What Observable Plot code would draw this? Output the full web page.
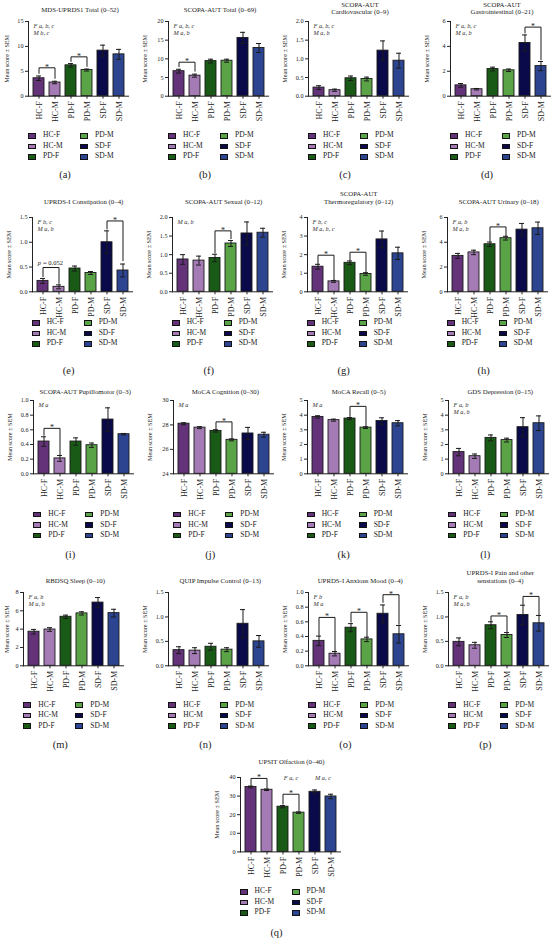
<!DOCTYPE html>
<html><head><meta charset="utf-8">
<script src="https://cdn.jsdelivr.net/npm/d3@7"></script>
<script src="https://cdn.jsdelivr.net/npm/@observablehq/plot@0.6"></script>
<style>
body{margin:0;background:#fff;}
#root{position:relative;width:554px;height:939px;overflow:hidden;font-family:"Liberation Serif","DejaVu Serif",serif;color:#222;}
.abs{position:absolute;}
.title{font-size:6.8px;line-height:7.8px;text-align:center;white-space:pre;width:160px;}
.lab{font-size:10.5px;width:30px;text-align:center;line-height:12px;}
.leg{position:absolute;font-size:7.5px;line-height:10.5px;white-space:nowrap;}
.sw{position:absolute;width:6px;height:3.6px;border:0.8px solid #111;}
svg{overflow:visible;}
</style></head><body><div id="root"></div>
<script>
const groups = ["HC-F", "HC-M", "PD-F", "PD-M", "SD-F", "SD-M"];
const palette = ["#633279", "#a57bb5", "#1a5a17", "#5aa346", "#0a0a4a", "#2d4590"];

// Mean values and SEM per panel
const mdsTotal = [3.6, 2.75, 6.2, 5.25, 9.15, 8.4];
const mdsTotalSem = [0.45, 0.25, 0.35, 0.2, 1.1, 1.0];
const scopaTotal = [6.7, 5.5, 9.4, 9.5, 15.6, 12.9];
const scopaTotalSem = [0.5, 0.4, 0.5, 0.4, 1.5, 1.2];
const cardio = [0.23, 0.16, 0.48, 0.46, 1.22, 0.95];
const cardioSem = [0.05, 0.03, 0.06, 0.05, 0.26, 0.2];
const gastro = [0.87, 0.56, 2.18, 2.08, 4.27, 2.42];
const gastroSem = [0.15, 0.06, 0.15, 0.1, 0.65, 0.37];
const constip = [0.22, 0.10, 0.47, 0.38, 1.0, 0.43];
const constipSem = [0.05, 0.04, 0.05, 0.03, 0.23, 0.13];
const sexual = [0.87, 0.84, 0.91, 1.30, 1.57, 1.59];
const sexualSem = [0.13, 0.12, 0.1, 0.08, 0.31, 0.12];
const thermo = [1.35, 0.56, 1.56, 0.96, 2.82, 2.07];
const thermoSem = [0.13, 0.05, 0.1, 0.07, 0.45, 0.33];
const urinary = [2.9, 3.18, 3.84, 4.33, 5.02, 5.13];
const urinarySem = [0.2, 0.18, 0.18, 0.15, 0.5, 0.5];
const pupil = [0.44, 0.21, 0.44, 0.39, 0.74, 0.54];
const pupilSem = [0.065, 0.04, 0.05, 0.03, 0.16, 0.01];
const cognition = [28.1, 27.78, 27.51, 26.78, 27.3, 27.2];
const cognitionSem = [0.08, 0.08, 0.1, 0.08, 0.5, 0.2];
const recall = [3.88, 3.66, 3.77, 3.15, 3.6, 3.45];
const recallSem = [0.08, 0.07, 0.07, 0.06, 0.22, 0.18];
const depression = [1.48, 1.2, 2.45, 2.3, 3.18, 3.45];
const depressionSem = [0.25, 0.15, 0.2, 0.13, 0.65, 0.5];
const sleep = [3.72, 3.96, 5.35, 5.72, 6.9, 5.75];
const sleepSem = [0.25, 0.2, 0.18, 0.18, 0.55, 0.42];
const impulse = [0.32, 0.31, 0.39, 0.33, 0.86, 0.5];
const impulseSem = [0.07, 0.06, 0.07, 0.04, 0.29, 0.12];
const anxious = [0.34, 0.165, 0.52, 0.36, 0.71, 0.43];
const anxiousSem = [0.065, 0.03, 0.055, 0.03, 0.12, 0.12];
const pain = [0.49, 0.42, 0.83, 0.63, 1.04, 0.87];
const painSem = [0.08, 0.06, 0.07, 0.05, 0.2, 0.16];
const olfaction = [34.9, 33.4, 24.3, 21.1, 32.3, 29.8];
const olfactionSem = [0.5, 0.4, 0.6, 0.4, 1.0, 1.2];

// Titles
const titles = [
  "MDS-UPRDS1 Total (0–52)", "SCOPA-AUT Total (0–69)", "SCOPA-AUT\nCardiovascular (0–9)", "SCOPA-AUT\nGastrointestinal (0–21)",
  "UPRDS-I Constipation (0–4)", "SCOPA-AUT Sexual (0–12)", "SCOPA-AUT\nThermoregulatory (0–12)", "SCOPA-AUT Urinary (0–18)",
  "SCOPA-AUT Pupillomotor (0–3)", "MoCA Cognition (0–30)", "MoCA Recall (0–5)", "GDS Depression (0–15)",
  "RBDSQ Sleep (0–10)", "QUIP Impulse Control (0–13)", "UPRDS-I Anxious Mood (0–4)", "UPRDS-I Pain and other\nsenstations (0–4)",
  "UPSIT Olfaction (0–40)"
];
const panelLabels = ["(a)","(b)","(c)","(d)","(e)","(f)","(g)","(h)","(i)","(j)","(k)","(l)","(m)","(n)","(o)","(p)","(q)"];

// Y ticks per panel
const ticks15 = [0, 5, 10, 15];
const ticks20 = [0, 5, 10, 15, 20];
const ticks2 = [0, 0.5, 1.0, 1.5, 2.0];
const ticks6 = [0, 2, 4, 6];
const ticks15d = [0, 0.5, 1.0, 1.5];
const ticks4 = [0, 1, 2, 3, 4];
const ticks1 = [0, 0.2, 0.4, 0.6, 0.8, 1.0];
const ticks30 = [24, 26, 28, 30];
const ticks5 = [0, 1, 2, 3, 4, 5];
const ticks8 = [0, 2, 4, 6, 8];
const ticks40 = [0, 10, 20, 30, 40];

// Group-difference annotations
const notes = [
  "F a, b, c\nM b, c", "F a, b, c\nM a, b", "F a, b, c\nM a, b", "F a, b, c\nM a, b",
  "F b, c\nM a, b", "M a, b", "F b, c\nM a, b, c", "F a, b\nM a, b",
  "M a", "M a", "M a", "F a, b\nM a, b",
  "F a, b\nM a, b", "", "F b\nM a", "F a, b\nM a, b", ""
];
const olfactionNotes = [["PD-F", 40, "F a, c"], ["SD-F", 40, "M a, c"]];

// Significance brackets: [group1, group2, bracket y, left end y, right end y, label]
const bracketsA = [["HC-F", "HC-M", 5.7, 4.5, 3.5, "*"], ["PD-F", "PD-M", 7.9, 6.9, 5.9, "*"]];
const bracketsB = [["HC-F", "HC-M", 9.1, 7.8, 6.6, "*"]];
const bracketsD = [["SD-F", "SD-M", 5.55, 5.05, 2.9, "*"]];
const bracketsE = [["HC-F", "HC-M", 0.49, 0.3, 0.16, "p = 0.052"], ["SD-F", "SD-M", 1.43, 1.26, 0.62, "*"]];
const bracketsF = [["PD-F", "PD-M", 1.64, 1.04, 1.42, "*"]];
const bracketsG = [["HC-F", "HC-M", 1.97, 1.5, 0.62, "*"], ["PD-F", "PD-M", 2.13, 1.68, 1.06, "*"]];
const bracketsH = [["PD-F", "PD-M", 5.24, 4.06, 4.5, "*"]];
const bracketsI = [["HC-F", "HC-M", 0.62, 0.52, 0.25, "*"]];
const bracketsJ = [["PD-F", "PD-M", 28.25, 27.65, 26.9, "*"]];
const bracketsK = [["PD-F", "PD-M", 4.6, 3.88, 3.24, "*"]];
const bracketsO = [["HC-F", "HC-M", 0.66, 0.41, 0.2, "*"], ["PD-F", "PD-M", 0.73, 0.59, 0.39, "*"], ["SD-F", "SD-M", 0.97, 0.86, 0.56, "*"]];
const bracketsP = [["PD-F", "PD-M", 1.02, 0.9, 0.69, "*"], ["SD-F", "SD-M", 1.42, 1.25, 1.04, "*"]];
const bracketsQ = [["HC-F", "HC-M", 39.5, 35.8, 34.2, "*"], ["PD-F", "PD-M", 31, 25.4, 21.9, "*"]];

const f1 = d3.format(".1f");
const fi = d3.format("d");

const panels = [
  {v: mdsTotal, e: mdsTotalSem, dom: [0, 15], t: ticks15, fmt: fi, br: bracketsA},
  {v: scopaTotal, e: scopaTotalSem, dom: [0, 20], t: ticks20, fmt: fi, br: bracketsB},
  {v: cardio, e: cardioSem, dom: [0, 2], t: ticks2, fmt: f1, br: []},
  {v: gastro, e: gastroSem, dom: [0, 6], t: ticks6, fmt: fi, br: bracketsD},
  {v: constip, e: constipSem, dom: [0, 1.5], t: ticks15d, fmt: f1, br: bracketsE},
  {v: sexual, e: sexualSem, dom: [0, 2], t: ticks2, fmt: f1, br: bracketsF},
  {v: thermo, e: thermoSem, dom: [0, 4], t: ticks4, fmt: fi, br: bracketsG},
  {v: urinary, e: urinarySem, dom: [0, 6], t: ticks6, fmt: fi, br: bracketsH},
  {v: pupil, e: pupilSem, dom: [0, 1], t: ticks1, fmt: f1, br: bracketsI},
  {v: cognition, e: cognitionSem, dom: [24, 30], t: ticks30, fmt: fi, br: bracketsJ},
  {v: recall, e: recallSem, dom: [0, 5], t: ticks5, fmt: fi, br: bracketsK},
  {v: depression, e: depressionSem, dom: [0, 5], t: ticks5, fmt: fi, br: []},
  {v: sleep, e: sleepSem, dom: [0, 8], t: ticks8, fmt: fi, br: []},
  {v: impulse, e: impulseSem, dom: [0, 1.5], t: ticks15d, fmt: f1, br: []},
  {v: anxious, e: anxiousSem, dom: [0, 1], t: ticks1, fmt: f1, br: bracketsO},
  {v: pain, e: painSem, dom: [0, 1.5], t: ticks15d, fmt: f1, br: bracketsP},
  {v: olfaction, e: olfactionSem, dom: [0, 40], t: ticks40, fmt: fi, br: bracketsQ}
];

// Page layout (pixels)
const rows = [
  {top: 21, bot: 95.7, titleY: 10, legY: 135.7, labY: 175, ax: [28, 168, 308, 450]},
  {top: 216.7, bot: 291, titleY: 202, legY: 322.7, labY: 371, ax: [31.7, 171.7, 306.7, 446.7]},
  {top: 400, bot: 473.3, titleY: 391.5, legY: 514.3, labY: 555, ax: [33.3, 173.3, 306.7, 448.3]},
  {top: 591.7, bot: 665, titleY: 581, legY: 705, labY: 745, ax: [23.3, 168.3, 308.3, 448.3]},
  {top: 777.3, bot: 851.7, titleY: 762, legY: 891.7, labY: 933, ax: [239.5]}
];

const root = document.getElementById("root");
const ML = 32, MR = 6, MT = 16, MB = 30, PW = 101;
const STEP = PW / (6 + 0.3125);
const INK = "#1a1a1a";

function addDiv(cls, left, top, html, extra) {
  const d = document.createElement("div");
  d.className = "abs " + cls;
  d.style.left = left + "px";
  d.style.top = top + "px";
  if (extra) Object.assign(d.style, extra);
  d.textContent = html;
  root.appendChild(d);
  return d;
}

let k = 0;
rows.forEach((row) => {
  row.ax.forEach((ax) => {
    const p = panels[k];
    const idx = k;
    const data = groups.map((g, i) => ({g, v: p.v[i], e: p.e[i]}));
    const ymin = p.dom[0];
    const plotH = row.bot - row.top;
    const labelOffset = Math.min(26, ax - 4);
    const marks = [
      Plot.barY(data, {x: "g", y1: ymin, y2: "v", fill: "g", stroke: INK, strokeWidth: 0.9}),
      Plot.ruleX(data, {x: "g", y1: d => d.v - d.e, y2: d => d.v + d.e, stroke: INK, strokeWidth: 1}),
      Plot.tickY(data, {x: "g", y: d => d.v + d.e, insetLeft: 3, insetRight: 3, stroke: INK, strokeWidth: 1}),
      Plot.tickY(data, {x: "g", y: d => d.v - d.e, insetLeft: 3, insetRight: 3, stroke: INK, strokeWidth: 1}),
      Plot.ruleY([ymin], {stroke: "#222", strokeWidth: 1}),
      Plot.frame({anchor: "left", stroke: "#222", strokeWidth: 1}),
      Plot.axisY({ticks: p.t, tickFormat: p.fmt, tickSize: 3, tickPadding: 2, fontSize: 6.2,
        label: "Mean score ± SEM", labelAnchor: "center", labelOffset, labelArrow: "none"}),
      Plot.axisX({tickRotate: -90, tickSize: 3, tickPadding: 2, fontSize: 8, label: null})
    ];
    // brackets
    if (p.br.length) {
      marks.push(Plot.link(p.br, {x1: d => d[0], x2: d => d[1], y1: d => d[2], y2: d => d[2], stroke: INK, strokeWidth: 1}));
      marks.push(Plot.link(p.br, {x1: d => d[0], x2: d => d[0], y1: d => d[3], y2: d => d[2], stroke: INK, strokeWidth: 1}));
      marks.push(Plot.link(p.br, {x1: d => d[1], x2: d => d[1], y1: d => d[4], y2: d => d[2], stroke: INK, strokeWidth: 1}));
      const stars = p.br.filter(d => d[5] === "*");
      const pvals = p.br.filter(d => d[5] !== "*");
      marks.push(Plot.text(stars, {x: d => d[0], y: d => d[2], text: d => d[5], dx: STEP / 2, dy: 2,
        lineAnchor: "bottom", fontSize: 8, fill: INK}));
      marks.push(Plot.text(pvals, {x: d => d[0], y: d => d[2], text: d => d[5].split(" ")[0], dx: STEP / 2 - 10, dy: -3,
        lineAnchor: "bottom", textAnchor: "end", fontSize: 6.5, fontStyle: "italic", fill: INK}));
      marks.push(Plot.text(pvals, {x: d => d[0], y: d => d[2], text: d => d[5].slice(2), dx: STEP / 2 - 8, dy: -3,
        lineAnchor: "bottom", textAnchor: "start", fontSize: 6.5, fill: INK}));
    }
    if (notes[idx]) {
      marks.push(Plot.text([notes[idx]], {frameAnchor: "top-left", text: d => d, dx: 5, dy: 2, lineAnchor: "top",
        textAnchor: "start", fontStyle: "italic", fontSize: 6.3, lineHeight: 1.05, fill: "#333"}));
    }
    if (idx === 16) {
      marks.push(Plot.text(olfactionNotes, {x: d => d[0], y: d => d[1], text: d => d[2], dx: STEP / 2,
        lineAnchor: "middle", fontStyle: "italic", fontSize: 6.3, fill: "#333"}));
    }
    const chart = Plot.plot({
      width: ML + PW + MR, height: MT + plotH + MB,
      marginLeft: ML, marginRight: MR, marginTop: MT, marginBottom: MB,
      style: {fontFamily: '"Liberation Serif", "DejaVu Serif", serif', background: "transparent", color: "#222", overflow: "visible"},
      x: {type: "band", domain: groups, padding: 0.3125},
      y: {domain: p.dom},
      color: {domain: groups, range: palette},
      marks
    });
    chart.style.position = "absolute";
    chart.style.left = (ax - ML) + "px";
    chart.style.top = (row.top - MT) + "px";
    chart.style.maxWidth = "none";
    root.appendChild(chart);

    // title
    const nLines = titles[idx].split("\n").length;
    addDiv("title", ax + 52 - 80, Math.max(0.5, row.titleY - 4 - (nLines - 1) * 7.8), titles[idx]);

    // legend
    groups.forEach((g, i) => {
      const col = i < 3 ? 0 : 1, r = i % 3;
      const x0 = ax + col * 52, y0 = row.legY - 5.25 + r * 10.5;
      const sw = document.createElement("div");
      sw.className = "sw";
      sw.style.left = x0 + "px";
      sw.style.top = (y0 + 2.6) + "px";
      sw.style.background = palette[i];
      root.appendChild(sw);
      addDiv("leg", x0 + 15, y0, g);
    });

    // panel label
    addDiv("lab", ax + 37 - 15, row.labY - 6, panelLabels[idx]);
    k++;
  });
});
</script>
</body></html>
